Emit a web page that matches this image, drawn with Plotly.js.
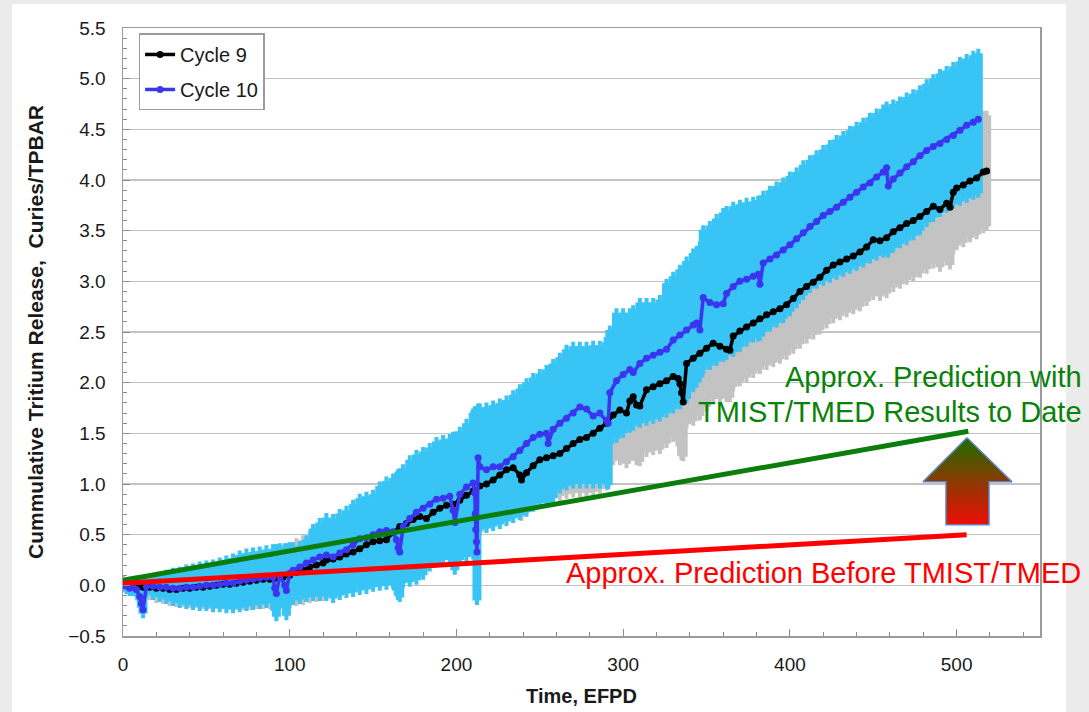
<!DOCTYPE html>
<html>
<head>
<meta charset="utf-8">
<script src="https://cdn.plot.ly/plotly-3.0.1.min.js"></script>
<style>
  html, body { margin: 0; padding: 0; background: #ebebeb; }
  #chart { width: 1089px; height: 712px; }
</style>
</head>
<body>
<div id="chart"></div>
<script>
// ---------------- Data ----------------
// Cycle 10 (blue): time (EFPD), cumulative release (Ci/TPBAR), error-bar top and bottom
const cycle10X = [0,2,4,6,8,10,11,12,14,18,22,26,30,34,38,42,46,50,54,58,62,66,70,74,78,82,86,90,91,92,94,97,98,100,102,106,110,114,118,122,126,130,134,138,142,146,150,154,158,162,164,165,166,168,172,176,180,184,188,192,196,198,199,202,206,210,211,211.3,211.6,212,212.3,213,214,218,222,226,230,234,238,242,246,250,254,255,258,262,266,270,274,278,282,286,290,291,292,296,300,304,306,310,314,318,322,326,330,334,338,342,344,346,348,352,356,360,362,366,370,374,378,381,382,384,388,392,396,400,404,408,412,416,420,424,428,432,436,440,444,448,452,456,458,459,462,466,470,474,478,482,486,490,494,498,502,506,510,513];
const cycle10Y = [0.00,-0.01,-0.03,-0.02,-0.04,-0.11,-0.18,-0.24,-0.01,-0.01,-0.02,-0.02,-0.03,-0.03,-0.02,-0.02,-0.01,0.00,0.00,0.01,0.02,0.02,0.04,0.05,0.06,0.07,0.08,0.08,-0.03,-0.08,0.10,0.00,-0.05,0.12,0.15,0.18,0.22,0.25,0.28,0.30,0.28,0.32,0.35,0.40,0.46,0.47,0.50,0.53,0.54,0.53,0.45,0.37,0.33,0.58,0.66,0.72,0.76,0.80,0.85,0.86,0.88,0.74,0.62,0.90,0.97,1.01,0.91,0.71,0.55,0.43,0.33,1.26,1.17,1.14,1.17,1.17,1.22,1.27,1.33,1.40,1.46,1.49,1.50,1.40,1.54,1.60,1.65,1.70,1.76,1.74,1.67,1.70,1.63,1.60,1.90,2.02,2.08,2.13,2.10,2.19,2.24,2.27,2.30,2.33,2.42,2.47,2.52,2.57,2.59,2.52,2.84,2.79,2.77,2.78,2.88,2.95,3.00,3.02,3.05,3.07,2.97,3.18,3.22,3.26,3.31,3.36,3.42,3.48,3.54,3.59,3.65,3.69,3.73,3.78,3.83,3.88,3.93,3.97,4.03,4.08,4.12,3.94,4.01,4.07,4.13,4.18,4.24,4.29,4.33,4.36,4.40,4.44,4.49,4.54,4.57,4.60];
const cycle10Hi = [0.02,0.03,0.04,0.04,0.05,0.05,0.05,0.05,0.05,0.07,0.09,0.11,0.13,0.14,0.16,0.17,0.19,0.20,0.21,0.23,0.25,0.27,0.30,0.32,0.33,0.34,0.35,0.36,0.36,0.36,0.37,0.37,0.37,0.38,0.38,0.39,0.45,0.56,0.62,0.67,0.66,0.71,0.74,0.80,0.86,0.88,0.90,0.98,1.03,1.06,1.08,1.10,1.11,1.15,1.24,1.29,1.32,1.36,1.42,1.44,1.45,1.47,1.47,1.52,1.60,1.70,1.72,1.72,1.72,1.72,1.72,1.75,1.75,1.76,1.78,1.80,1.83,1.88,1.94,2.00,2.05,2.09,2.13,2.13,2.19,2.25,2.33,2.36,2.36,2.36,2.37,2.37,2.40,2.45,2.52,2.69,2.69,2.69,2.72,2.79,2.79,2.79,2.82,2.98,3.05,3.12,3.20,3.28,3.30,3.35,3.51,3.55,3.62,3.68,3.70,3.74,3.76,3.78,3.79,3.80,3.80,3.85,3.90,3.94,3.98,4.04,4.08,4.15,4.20,4.25,4.30,4.35,4.40,4.44,4.49,4.53,4.57,4.62,4.66,4.70,4.73,4.60,4.75,4.78,4.82,4.85,4.89,4.95,5.00,5.05,5.08,5.12,5.17,5.20,5.23,5.25];
const cycle10Lo = [-0.02,-0.04,-0.06,-0.06,-0.07,-0.15,-0.22,-0.28,-0.08,-0.10,-0.12,-0.14,-0.16,-0.18,-0.19,-0.20,-0.21,-0.21,-0.22,-0.22,-0.23,-0.23,-0.22,-0.21,-0.20,-0.19,-0.18,-0.17,-0.25,-0.31,-0.17,-0.22,-0.30,-0.16,-0.15,-0.14,-0.12,-0.11,-0.11,-0.11,-0.13,-0.10,-0.08,-0.07,-0.05,-0.04,-0.02,-0.01,0.00,0.01,-0.05,-0.10,-0.12,0.02,0.03,0.05,0.10,0.18,0.22,0.25,0.25,0.20,0.15,0.25,0.28,0.30,0.30,0.30,0.30,0.30,-0.15,0.55,0.55,0.56,0.58,0.60,0.63,0.66,0.69,0.72,0.77,0.81,0.82,0.82,0.86,0.95,0.98,1.00,1.00,1.00,1.00,1.00,1.00,0.99,1.40,1.45,1.50,1.55,1.57,1.60,1.62,1.64,1.66,1.70,1.74,1.78,1.84,1.95,2.00,2.05,2.13,2.17,2.21,2.25,2.27,2.30,2.35,2.40,2.44,2.45,2.46,2.50,2.55,2.59,2.63,2.70,2.78,2.86,2.93,2.97,3.00,3.03,3.06,3.09,3.12,3.15,3.18,3.22,3.25,3.28,3.30,3.28,3.33,3.37,3.40,3.45,3.50,3.58,3.63,3.68,3.72,3.76,3.79,3.82,3.85,3.87];

// Cycle 9 (black): time (EFPD), cumulative release, half-width of error bar
const cycle9X = [0,4,8,12,16,20,24,28,32,36,40,44,48,52,56,60,64,68,72,76,80,84,88,92,96,100,104,108,112,116,120,122,126,130,134,138,142,146,150,154,158,162,166,170,174,178,182,186,190,194,198,202,206,210,214,218,222,226,230,234,238,239,242,246,250,254,258,262,266,270,274,278,282,286,290,294,298,302,304,306,308,310,314,318,322,326,330,333,334,335,336,338,342,346,350,354,358,362,364,366,370,374,378,382,386,390,394,398,402,406,410,414,418,422,426,430,434,438,442,446,450,454,458,462,466,470,474,478,482,486,490,494,496,498,500,504,508,512,516,518];
const cycle9Y = [0.02,0.00,-0.01,-0.02,-0.02,-0.03,-0.03,-0.04,-0.04,-0.03,-0.03,-0.02,-0.02,-0.01,0.00,0.01,0.01,0.02,0.03,0.04,0.05,0.06,0.06,0.07,0.08,0.10,0.13,0.15,0.18,0.20,0.22,0.25,0.26,0.28,0.31,0.33,0.36,0.40,0.43,0.44,0.45,0.52,0.58,0.61,0.65,0.68,0.66,0.72,0.76,0.79,0.80,0.84,0.89,0.93,0.98,1.00,1.04,1.09,1.14,1.16,1.09,1.04,1.11,1.18,1.24,1.26,1.28,1.30,1.35,1.40,1.44,1.46,1.50,1.55,1.60,1.68,1.73,1.70,1.82,1.86,1.78,1.77,1.93,1.96,1.99,2.02,2.06,2.04,1.99,1.90,1.81,2.19,2.24,2.29,2.34,2.39,2.36,2.33,2.32,2.46,2.51,2.55,2.59,2.63,2.67,2.70,2.73,2.77,2.83,2.90,2.95,2.99,3.04,3.11,3.16,3.19,3.22,3.25,3.29,3.34,3.41,3.40,3.43,3.49,3.53,3.57,3.60,3.64,3.69,3.74,3.71,3.77,3.73,3.88,3.92,3.95,3.99,4.02,4.08,4.09];
const cycle9Err = [0.03,0.04,0.06,0.07,0.08,0.10,0.11,0.12,0.13,0.14,0.15,0.16,0.17,0.18,0.19,0.20,0.21,0.22,0.23,0.24,0.24,0.25,0.25,0.26,0.27,0.28,0.29,0.30,0.31,0.32,0.33,0.33,0.34,0.35,0.35,0.36,0.37,0.37,0.38,0.38,0.39,0.40,0.40,0.41,0.41,0.42,0.42,0.43,0.43,0.44,0.44,0.44,0.45,0.45,0.45,0.42,0.42,0.42,0.42,0.40,0.38,0.36,0.36,0.36,0.38,0.40,0.40,0.42,0.45,0.49,0.53,0.55,0.58,0.60,0.62,0.45,0.50,0.50,0.55,0.58,0.55,0.55,0.62,0.63,0.65,0.62,0.60,0.60,0.62,0.62,0.54,0.60,0.62,0.62,0.58,0.55,0.52,0.48,0.47,0.50,0.50,0.50,0.50,0.50,0.50,0.50,0.50,0.50,0.50,0.52,0.52,0.52,0.52,0.53,0.53,0.53,0.53,0.53,0.54,0.54,0.55,0.55,0.55,0.55,0.56,0.56,0.56,0.56,0.57,0.57,0.57,0.57,0.57,0.57,0.57,0.57,0.56,0.56,0.56,0.55];

// Approximate prediction lines
const predBeforeX = [0, 506];
const predBeforeY = [0.02, 0.50];
const predWithX = [0, 507];
const predWithY = [0.05, 1.52];

// ---------------- Build the figure ----------------
const font = 'Arial, "Liberation Sans", sans-serif';
const cyc10Plus = cycle10Hi.map((h, i) => h - cycle10Y[i]);
const cyc10Minus = cycle10Lo.map((l, i) => cycle10Y[i] - l);

// decorative block arrow (gradient green -> red), in axis units
const arrowPath = {
  x: [506.2, 533.2, 519.4, 519.4, 493.6, 493.6, 479.8, 506.2],
  y: [1.456, 1.021, 1.021, 0.598, 0.598, 1.021, 1.021, 1.456]
};

const traces = [
  { // cycle 9 error bars (grey)
    x: cycle9X, y: cycle9Y, type: 'scatter', mode: 'markers',
    marker: { size: 1, opacity: 0 }, showlegend: false, hoverinfo: 'skip',
    error_y: { type: 'data', array: cycle9Err, visible: true, color: '#c3c3c3', thickness: 9, width: 2 }
  },
  { // cycle 10 error bars (light blue)
    x: cycle10X, y: cycle10Y, type: 'scatter', mode: 'markers',
    marker: { size: 1, opacity: 0 }, showlegend: false, hoverinfo: 'skip',
    error_y: { type: 'data', symmetric: false, array: cyc10Plus, arrayminus: cyc10Minus, visible: true, color: '#38c4f4', thickness: 9, width: 2 }
  },
  {
    x: cycle9X, y: cycle9Y, type: 'scatter', mode: 'lines+markers', name: 'Cycle 9',
    legendgroup: 'a', line: { color: '#000000', width: 3.5 }, marker: { color: '#000000', size: 7 }
  },
  {
    x: cycle10X, y: cycle10Y, type: 'scatter', mode: 'lines+markers', name: 'Cycle 10',
    legendgroup: 'b', line: { color: '#3b35f0', width: 3.5 }, marker: { color: '#3b35f0', size: 7 }
  },
  {
    x: predWithX, y: predWithY, type: 'scatter', mode: 'lines', showlegend: false, hoverinfo: 'skip',
    line: { color: '#0a7d0a', width: 5 }
  },
  {
    x: predBeforeX, y: predBeforeY, type: 'scatter', mode: 'lines', showlegend: false, hoverinfo: 'skip',
    line: { color: '#ff0000', width: 5 }
  },
  {
    x: arrowPath.x, y: arrowPath.y, type: 'scatter', mode: 'lines', fill: 'toself', showlegend: false, hoverinfo: 'skip',
    line: { color: '#5b84c4', width: 1.5 },
    fillgradient: { type: 'vertical', start: 0.598, stop: 1.456,
      colorscale: [[0, '#ee0d05'], [0.5, '#8a3a00'], [1, '#1c6e00']] }
  }
];

const layout = {
  width: 1089, height: 712, autosize: false,
  margin: { l: 123, r: 49, t: 28, b: 76, pad: 0 },
  paper_bgcolor: '#ebebeb', plot_bgcolor: '#ffffff',
  font: { family: font, color: '#1a1a1a', size: 19 },
  shapes: [{
    type: 'rect', xref: 'paper', yref: 'paper', layer: 'below',
    x0: -0.121, x1: 1.0284, y0: -0.2, y1: 1.0395,
    fillcolor: '#ffffff', line: { width: 0 }
  }],
  xaxis: {
    range: [0, 550], tick0: 0, dtick: 100, ticks: 'inside', ticklen: 7, tickcolor: '#8a8a8a', tickwidth: 1,
    showgrid: false, zeroline: false, showline: true, linecolor: '#9a9a9a', linewidth: 1.5, mirror: true,
    tickfont: { size: 19, color: '#1a1a1a', family: font }, ticklabelstandoff: 11,
    minor: { dtick: 20, ticks: 'inside', ticklen: 4, tickcolor: '#8a8a8a', showgrid: false },
    title: { text: '<b>Time, EFPD</b>', font: { size: 20, family: font, color: '#1a1a1a' }, standoff: 14 }
  },
  yaxis: {
    range: [-0.5, 5.5], tick0: 0, dtick: 0.5, tickformat: '.1f', ticks: 'inside', ticklen: 7, tickcolor: '#8a8a8a',
    showgrid: true, gridcolor: '#c2c2c2', gridwidth: 1.5, zeroline: false,
    showline: true, linecolor: '#9a9a9a', linewidth: 1.5, mirror: true,
    tickfont: { size: 19, color: '#1a1a1a', family: font }, ticklabelstandoff: 12,
    minor: { dtick: 0.1, ticks: 'inside', ticklen: 4, tickcolor: '#8a8a8a', showgrid: false },
    title: { text: '<b>Cummulative Tritium Release, \u00a0Curies/TPBAR</b>', font: { size: 21, family: font, color: '#1a1a1a' }, standoff: 19 }
  },
  legend: {
    x: 0.017, y: 0.991, xanchor: 'left', yanchor: 'top',
    bgcolor: '#ffffff', bordercolor: '#9a9a9a', borderwidth: 1.5,
    font: { size: 20, family: font, color: '#1a1a1a' },
    traceorder: 'grouped', tracegroupgap: 6,
    entrywidth: 100, entrywidthmode: 'pixels'
  },
  annotations: [
    { xref: 'paper', yref: 'y', x: 1.048, y: 2.06, xanchor: 'right', yanchor: 'middle', showarrow: false,
      text: 'Approx. Prediction with', font: { size: 29, color: '#0a820a', family: font } },
    { xref: 'paper', yref: 'y', x: 1.048, y: 1.71, xanchor: 'right', yanchor: 'middle', showarrow: false,
      text: 'TMIST/TMED Results to Date', font: { size: 29, color: '#0a820a', family: font } },
    { xref: 'paper', yref: 'y', x: 1.047, y: 0.12, xanchor: 'right', yanchor: 'middle', showarrow: false,
      text: 'Approx. Prediction Before TMIST/TMED', font: { size: 29, color: '#ff0000', family: font } }
  ]
};

Plotly.newPlot('chart', traces, layout, { staticPlot: true, displayModeBar: false });
</script>
</body>
</html>
